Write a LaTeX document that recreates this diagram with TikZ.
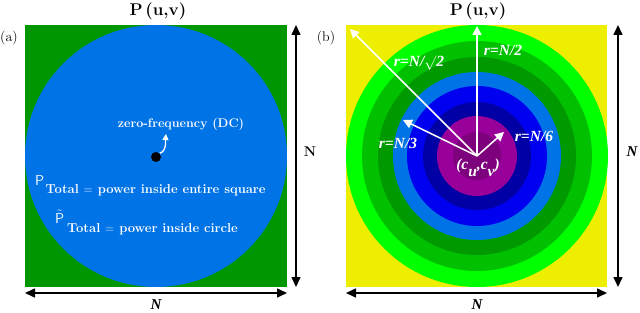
\documentclass[tikz,border=0pt]{standalone}
\usepackage{fontspec}
\newfontfamily\timesf{Liberation Serif}
\usetikzlibrary{arrows.meta}
\definecolor{sqgreen}{RGB}{0,150,0}
\definecolor{cblue}{RGB}{0,115,230}
\definecolor{ryellow}{RGB}{238,238,0}
\definecolor{rgreenA}{RGB}{0,255,0}
\definecolor{rgreenB}{RGB}{0,192,0}
\definecolor{rgreenC}{RGB}{0,153,0}
\definecolor{rblueA}{RGB}{0,115,230}
\definecolor{rblueB}{RGB}{0,0,240}
\definecolor{rblueC}{RGB}{0,0,165}
\definecolor{rpurpA}{RGB}{153,0,153}
\definecolor{rpurpB}{RGB}{125,0,125}
\newcommand{\bigP}[1]{{\fontsize{14.5}{16}\selectfont\sffamily\mdseries #1}}
\tikzset{
  dimarrow/.style={line width=1.6pt,{Triangle[length=10pt,width=9pt]}-{Triangle[length=10pt,width=9pt]}},
  warrow/.style={white,line width=1.5pt,-{Triangle[length=9pt,width=9pt]}},
  wtext/.style={text=white,inner sep=0pt,font=\fontsize{13}{15}\selectfont\bfseries},
  rlabel/.style={text=white,inner sep=0pt,font=\fontsize{15.5}{18}\selectfont\timesf\bfseries\itshape},
  title/.style={inner sep=0pt,font=\fontsize{17}{20}\selectfont\bfseries},
  plain/.style={inner sep=0pt,font=\fontsize{14}{16}\selectfont},
  nlabel/.style={inner sep=0pt,font=\fontsize{15}{17}\selectfont\timesf\bfseries\itshape},
}
\begin{document}
\begin{tikzpicture}[x=1pt,y=-1pt]
\useasboundingbox (0,0) rectangle (640,313);
% ---------- left panel ----------
\fill[sqgreen] (25,25) rectangle (287,287);
\fill[cblue] (156,156) circle[radius=131];
\node[title] (ta) at (158,11) {P\kern2.5pt(u,v)};
\node[plain] (la) at (9,38) {(a)};
\node[circle,fill=black,inner sep=0pt,minimum size=10pt] (dc) at (156,157) {};
\node[wtext,anchor=base,font=\fontsize{12.5}{15}\selectfont\bfseries] (dctext) at (181,128) {zero-frequency (DC)};
\coordinate (dctip) at (166,134);
\draw[white,line width=1.3pt,-{Triangle[length=6pt,width=6pt]}] (dc.north east) to[out=20,in=-95] (dctip);
\node[wtext,anchor=base west] (p1) at (35,185) {\bigP{P}\kern1.5pt\raisebox{-8pt}{Total $=$ power inside entire square}};
\node[wtext,anchor=base west] (p2) at (55,223) {\bigP{$\tilde{\mathsf{P}}$}\kern3pt\raisebox{-9pt}{Total $=$ power inside circle}};
\coordinate (av1) at (296,25);
\coordinate (av2) at (296,287);
\draw[dimarrow] (av1) -- (av2);
\node[plain,font=\fontsize{14}{16}\selectfont\bfseries] (na) at (310,152) {N};
\coordinate (ah1) at (25,293);
\coordinate (ah2) at (287,293);
\draw[dimarrow] (ah1) -- (ah2);
\node[nlabel] (nab) at (156,305) {N};
% ---------- right panel ----------
\fill[ryellow] (346,25) rectangle (607,287);
\coordinate (c) at (477,156);
\fill[rgreenA] (c) circle[radius=131];
\fill[rgreenB] (c) circle[radius=115];
\fill[rgreenC] (c) circle[radius=99];
\fill[rblueA] (c) circle[radius=84];
\fill[rblueB] (c) circle[radius=70];
\fill[rblueC] (c) circle[radius=54];
\fill[rpurpA] (c) circle[radius=40];
\fill[rpurpB] (c) circle[radius=24];
\node[title] (tb) at (478,11) {P\kern2.5pt(u,v)};
\node[plain] (lb) at (326,38) {(b)};
\coordinate (r1) at (350,29);
\coordinate (r2) at (477,26);
\coordinate (r3) at (403,120);
\coordinate (r4) at (504,132);
\draw[warrow] (c) -- (r1);
\draw[warrow] (c) -- (r2);
\draw[warrow] (c) -- (r3);
\draw[warrow] (c) -- (r4);
\node[rlabel] (l1) at (419,63) {r=N/$\surd$2};
\node[rlabel] (l2) at (503,50) {r=N/2};
\node[rlabel] (l3) at (398,143) {r=N/3};
\node[rlabel] (l4) at (534,136) {r=N/6};
\node[rlabel] (cc) at (478,168) {(c\raisebox{-7pt}{u},c\raisebox{-7pt}{v})};
\coordinate (bv1) at (618,25);
\coordinate (bv2) at (618,287);
\draw[dimarrow] (bv1) -- (bv2);
\node[nlabel] (nb) at (632,152) {N};
\coordinate (bh1) at (346,293);
\coordinate (bh2) at (607,293);
\draw[dimarrow] (bh1) -- (bh2);
\node[nlabel] (nbb) at (477,305) {N};
\end{tikzpicture}
\end{document}
